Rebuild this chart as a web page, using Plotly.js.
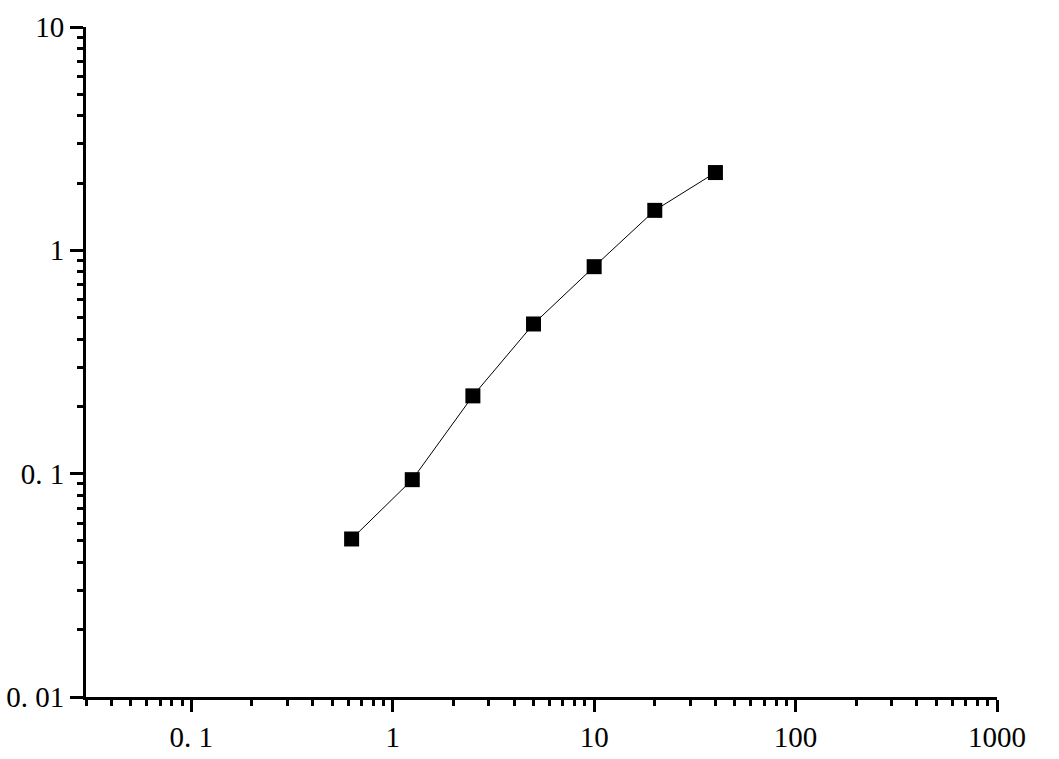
<!DOCTYPE html>
<html>
<head>
<meta charset="utf-8">
<script src="https://cdn.plot.ly/plotly-3.0.1.min.js"></script>
<style>
  body { margin: 0; background: #fff; }
  #chart { width: 1059px; height: 759px; }
</style>
</head>
<body>
<div id="chart"></div>
<script>
// standard curve, log-log
var concentration = [0.625, 1.25, 2.5, 5, 10, 20, 40];
var response = [0.051, 0.094, 0.223, 0.468, 0.845, 1.51, 2.23];

var xTickVals = [0.1, 1, 10, 100, 1000];
var xTickText = ['0. 1', '1', '10', '100', '1000'];
var yTickVals = [0.01, 0.1, 1, 10];
var yTickText = ['0. 01', '0. 1', '1', '10'];

var tickFont = {family: 'Liberation Serif, Times New Roman, serif', size: 29, color: '#000'};

var trace = {
  x: concentration,
  y: response,
  type: 'scatter',
  mode: 'lines+markers',
  line: {color: '#000', width: 1},
  marker: {symbol: 'square', size: 15, color: '#000'}
};

var layout = {
  width: 1059,
  height: 759,
  margin: {l: 86, r: 62, t: 27, b: 62},
  paper_bgcolor: '#fff',
  plot_bgcolor: '#fff',
  showlegend: false,
  xaxis: {
    type: 'log',
    range: [Math.log10(0.03), 3],
    showgrid: false,
    zeroline: false,
    showline: true,
    linecolor: '#000',
    linewidth: 3,
    ticks: 'outside',
    ticklen: 12,
    tickwidth: 3,
    tickcolor: '#000',
    tickmode: 'array',
    tickvals: xTickVals,
    ticktext: xTickText,
    tickfont: tickFont,
    minor: {ticks: 'outside', ticklen: 6, tickwidth: 3, tickcolor: '#000', dtick: 'D1'}
  },
  yaxis: {
    type: 'log',
    range: [-2, 1],
    showgrid: false,
    zeroline: false,
    showline: true,
    linecolor: '#000',
    linewidth: 3,
    ticks: 'outside',
    ticklen: 13,
    tickwidth: 3,
    tickcolor: '#000',
    tickmode: 'array',
    tickvals: yTickVals,
    ticktext: yTickText,
    tickfont: tickFont,
    minor: {ticks: 'outside', ticklen: 6, tickwidth: 3, tickcolor: '#000', dtick: 'D1'}
  }
};

Plotly.newPlot('chart', [trace], layout, {displayModeBar: false, staticPlot: true});
</script>
</body>
</html>
